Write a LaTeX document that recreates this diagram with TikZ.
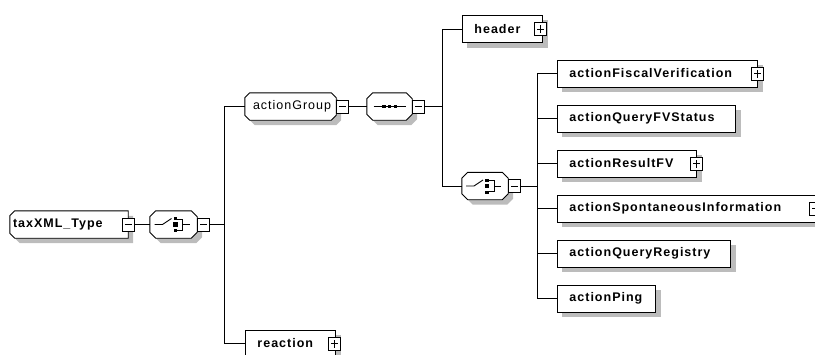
\documentclass[tikz,border=0pt]{standalone}
\usepackage{fontspec}
\newfontfamily\xsf{Liberation Sans}[LetterSpace=8]
\definecolor{shadowgray}{RGB}{188,188,188}
\pgfdeclarelayer{background}
\pgfsetlayers{background,main}
% #1 node, #2 chamfer, #3 style, #4 xoff, #5 yoff (canvas)
\newcommand\octdraw[5]{\path[#3] ([xshift=#2+#4,yshift=#5]#1.north west) -- ([xshift=-#2+#4,yshift=#5]#1.north east) -- ([xshift=#4,yshift=-#2+#5]#1.north east) -- ([xshift=#4,yshift=#2+#5]#1.south east) -- ([xshift=-#2+#4,yshift=#5]#1.south east) -- ([xshift=#2+#4,yshift=#5]#1.south west) -- ([xshift=#4,yshift=#2+#5]#1.south west) -- ([xshift=#4,yshift=-#2+#5]#1.north west) -- cycle;}
\newcommand\lchamdraw[5]{\path[#3] ([xshift=#2+#4,yshift=#5]#1.north west) -- ([xshift=#4,yshift=#5]#1.north east) -- ([xshift=#4,yshift=#5]#1.south east) -- ([xshift=#2+#4,yshift=#5]#1.south west) -- ([xshift=#4,yshift=#2+#5]#1.south west) -- ([xshift=#4,yshift=-#2+#5]#1.north west) -- cycle;}
\newcommand\rectshadow[1]{\fill[shadowgray] ([xshift=5pt,yshift=-5pt]#1.south west) rectangle ([xshift=5pt,yshift=-5pt]#1.north east);}
\newcommand\choicesym[1]{\begin{scope}[shift={(#1.center)}]
 \draw[symline] (-19,0) -- (-11,0) -- (-2,-6);
 \fill (0,-7.5) rectangle (3.5,-4.5);
 \fill (-0.5,-2.2) rectangle (4,2.2);
 \fill (0,4.5) rectangle (3.5,7.5);
 \draw[symline] (3.5,-5.5) -- (9,-5.5) -- (9,5.5) -- (3.5,5.5);
 \draw[symline] (9,0) -- (16,0);
\end{scope}}
\newcommand\seqsym[1]{\begin{scope}[shift={(#1.center)}]
 \draw[symline] (-16,0) -- (16,0);
 \fill (-7.5,-1.8) rectangle (-4,1.8);
 \fill (-1.75,-1.8) rectangle (1.75,1.8);
 \fill (4,-1.8) rectangle (7.5,1.8);
\end{scope}}
\begin{document}
\begin{tikzpicture}[x=1pt,y=-1pt,
  lw/.style={line width=0.9pt},
  symline/.style={line width=0.9pt},
  conn/.style={line width=0.9pt},
  chamfill/.style={draw,lw,fill=white},
  shadfill/.style={fill=shadowgray},
  elem/.style={rectangle,draw,fill=white,lw,minimum height=27pt,inner xsep=12pt,inner ysep=0pt,
    anchor=west,align=left,font=\xsf\bfseries\fontsize{12.5}{14}\selectfont},
  holder/.style={rectangle,draw=none,inner sep=0pt,minimum height=27pt},
  lbl/.style={anchor=west,inner sep=0pt,font=\xsf\fontsize{12.5}{14}\selectfont},
  pm/.style={rectangle,draw,fill=white,lw,minimum width=12pt,minimum height=13pt,inner sep=0pt},
  mbox/.style={pm,path picture={\draw[line width=0.9pt] ([xshift=2.5pt]path picture bounding box.west) -- ([xshift=-2.5pt]path picture bounding box.east);}},
  pbox/.style={pm,path picture={\draw[line width=0.9pt] ([xshift=2.5pt]path picture bounding box.west) -- ([xshift=-2.5pt]path picture bounding box.east) ([yshift=2.5pt]path picture bounding box.south) -- ([yshift=-2.5pt]path picture bounding box.north);}}
]
\useasboundingbox (0,0) rectangle (815,354);
\clip (0,0) rectangle (815,354);

% taxXML_Type
\node[holder,minimum width=118pt] (tx) at (69,224.5) {};
\lchamdraw{tx}{5}{shadfill}{5}{-5}
\lchamdraw{tx}{5}{chamfill}{0}{0}
\node[lbl,font=\xsf\bfseries\fontsize{12.5}{14}\selectfont] (txt) at ([xshift=3pt]tx.west) {taxXML\_Type};
\node[mbox] (txm) at (tx.east) {};

% choice compositor 1
\node[holder,minimum width=47pt] (c1) at (173.5,224.5) {};
\octdraw{c1}{6}{shadfill}{5}{-5}
\octdraw{c1}{6}{chamfill}{0}{0}
\choicesym{c1}
\node[mbox,anchor=west] (c1m) at (c1.east) {};

% actionGroup
\node[holder,minimum width=91pt] (ag) at (290.5,106.5) {};
\octdraw{ag}{5}{shadfill}{5}{-5}
\octdraw{ag}{5}{chamfill}{0}{0}
\node[lbl] (agt) at ([xshift=8pt]ag.west) {actionGroup};
\node[mbox,anchor=west] (agm) at (ag.east) {};

% sequence compositor
\node[holder,minimum width=45pt] (s1) at (389.5,106.5) {};
\octdraw{s1}{6}{shadfill}{5}{-5}
\octdraw{s1}{6}{chamfill}{0}{0}
\seqsym{s1}
\node[mbox,anchor=west] (s1m) at (s1.east) {};

% reaction
\node[elem,text width=66pt] (re) at (245,343.5) {reaction};
\node[pbox] (rem) at ([xshift=-1pt]re.east) {};

% header
\node[elem,text width=56pt] (hd) at (462,29) {header};
\node[pbox] (hdm) at ([xshift=-2pt]hd.east) {};

% choice compositor 2
\node[holder,minimum width=46pt] (c2) at (485,186) {};
\octdraw{c2}{6}{shadfill}{5}{-5}
\octdraw{c2}{6}{chamfill}{0}{0}
\choicesym{c2}
\node[mbox,anchor=west] (c2m) at (c2.east) {};

% elements
\node[elem,text width=176pt] (e1) at (557,73.5) {actionFiscalVerification};
\node[pbox] (e1m) at (e1.east) {};
\node[elem,text width=154pt] (e2) at (557,118.5) {actionQueryFVStatus};
\node[elem,text width=115pt] (e3) at (557,163.5) {actionResultFV};
\node[pbox] (e3m) at (e3.east) {};
\node[elem,text width=234pt] (e4) at (557,208.5) {actionSpontaneousInformation};
\node[mbox] (e4m) at (e4.east) {};
\node[elem,text width=149pt] (e5) at (557,253.5) {actionQueryRegistry};
\node[elem,text width=74pt] (e6) at (557,298.5) {actionPing};

% shadows of the rectangular boxes
\begin{pgfonlayer}{background}
\foreach \e in {re,hd,e1,e2,e3,e4,e5,e6} { \rectshadow{\e} }
\end{pgfonlayer}

% connectors
\coordinate (b1) at (224,224.5);
\coordinate (b2) at (442,106.5);
\coordinate (b3) at (537,186);
\draw[conn] (txm.east) -- (c1.west);
\draw[conn] (c1m.east) -- (b1);
\draw[conn] (b1) |- (ag.west);
\draw[conn] (b1) |- (re.west);
\draw[conn] (agm.east) -- (s1.west);
\draw[conn] (s1m.east) -- (b2);
\draw[conn] (b2) |- (hd.west);
\draw[conn] (b2) |- (c2.west);
\draw[conn] (c2m.east) -- (b3);
\foreach \e in {e1,e2,e3,e4,e5,e6} { \draw[conn] (b3) |- (\e.west); }
\end{tikzpicture}
\end{document}
